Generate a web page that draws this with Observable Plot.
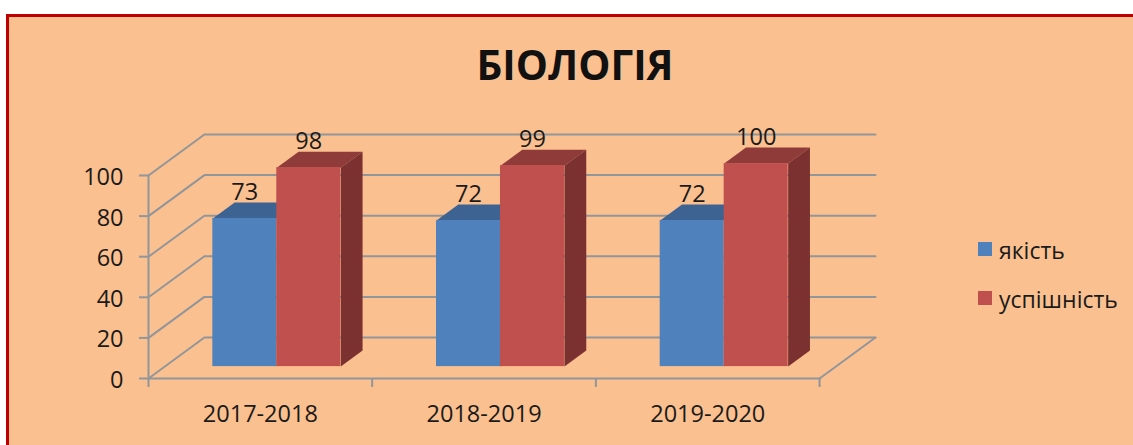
<!DOCTYPE html>
<html lang="uk">
<head>
<meta charset="utf-8">
<script src="https://cdn.jsdelivr.net/npm/d3@7"></script>
<script src="https://cdn.jsdelivr.net/npm/@observablehq/plot@0.6"></script>
<style>
  html, body { margin: 0; padding: 0; background: #fff; width: 1133px; height: 445px; overflow: hidden; }
  #frame { position: absolute; left: 6px; top: 14px; width: 1127px; height: 431px; box-sizing: border-box;
           background: #fbc08f; border-left: 3px solid #c00000; border-top: 3px solid #c00000; }
  #title { position: absolute; left: 0; top: 36px; width: 1150px; text-align: center; margin: 0;
           font: 700 40.5px "Open Sans", sans-serif; color: #111; line-height: 58px; }
  #chart { position: absolute; left: 0; top: 0; }
  #chart svg { background: transparent !important; }
  .key { position: absolute; left: 978px; font: 23px "Open Sans", sans-serif; color: #1a1a1a; line-height: 28px; white-space: nowrap; }
  .key i { position: absolute; left: 0; top: 6px; width: 14px; height: 14px; }
  .key span { margin-left: 21px; }
</style>
</head>
<body>
<div id="frame"></div>
<h1 id="title"></h1>
<div id="chart"></div>
<div id="legend"></div>
<script>
const title = "БІОЛОГІЯ";
const categories = ["2017-2018", "2018-2019", "2019-2020"];
const quality = [73, 72, 72];
const success = [98, 99, 100];
const seriesNames = ["якість", "успішність"];
const yTicks = [0, 20, 40, 60, 80, 100];
const xBounds = [0, 1, 2, 3];

const colors = {
  front: ["#4f81bd", "#c0504d"],
  top: ["#3d6392", "#8f3b39"],
  side: ["#345478", "#7b3130"]
};
const gridColor = "#92959a";
const textColor = "#1a1a1a";
const labelSize = 23.5;
const font = '"Open Sans", sans-serif';

// Oblique projection, expressed in data units: a unit of depth moves a point
// right along x and up along y.
const depthX = 0.25, depthY = 20.2;
const barStart = 0.215, barWidth = 0.286, depth0 = 0.29, depth1 = 0.68;
const px = (c, d) => c + d * depthX;
const py = (v, d) => v + d * depthY;

// Walls and floor: one polyline per tick, from the front plane to the back and along it.
const grid = yTicks.flatMap(v => [
  {id: v, x: px(0, 0), y: py(v, 0)},
  {id: v, x: px(0, 1), y: py(v, 1)},
  {id: v, x: px(3, 1), y: py(v, 1)}
]);
const floorEdges = [
  {id: "front", x: px(0, 0), y: py(0, 0)}, {id: "front", x: px(3, 0), y: py(0, 0)},
  {id: "right", x: px(3, 0), y: py(0, 0)}, {id: "right", x: px(3, 1), y: py(0, 1)},
  {id: "axis", x: px(0, 0), y: py(0, 0)}, {id: "axis", x: px(0, 0), y: py(100, 0)}
];

const bars = [quality, success].map((vals, s) => vals.map((v, i) => {
  const x1 = i + barStart + s * barWidth, x2 = x1 + barWidth;
  return {i, s, v, x1, x2, name: seriesNames[s]};
}));

function faces(list, s) {
  return list.flatMap(b => {
    const t = `t${b.i}`, r = `r${b.i}`;
    const c1 = colors.top[s], c2 = colors.side[s];
    return [
      {id: t, c: c1, x: px(b.x1, depth0), y: py(b.v, depth0)},
      {id: t, c: c1, x: px(b.x2, depth0), y: py(b.v, depth0)},
      {id: t, c: c1, x: px(b.x2, depth1), y: py(b.v, depth1)},
      {id: t, c: c1, x: px(b.x1, depth1), y: py(b.v, depth1)},
      {id: r, c: c2, x: px(b.x2, depth0), y: py(0, depth0)},
      {id: r, c: c2, x: px(b.x2, depth1), y: py(0, depth1)},
      {id: r, c: c2, x: px(b.x2, depth1), y: py(b.v, depth1)},
      {id: r, c: c2, x: px(b.x2, depth0), y: py(b.v, depth0)}
    ];
  });
}

const barMarks = bars.flatMap((list, s) => [
  Plot.line(faces(list, s), {x: "x", y: "y", z: "id", fill: "c", stroke: null, curve: "linear"}),
  Plot.rect(list, {
    x1: b => px(b.x1, depth0), x2: b => px(b.x2, depth0),
    y1: () => py(0, depth0), y2: b => py(b.v, depth0),
    fill: () => colors.front[s], inset: 0
  })
]);

const plot = Plot.plot({
  width: 1133, height: 445,
  marginLeft: 148, marginRight: 258, marginTop: 134, marginBottom: 67,
  style: {background: "transparent", fontFamily: font, fontSize: labelSize + "px", overflow: "visible"},
  x: {type: "linear", domain: [0, 3 + depthX]},
  y: {type: "linear", domain: [0, 100 + depthY]},
  color: {type: "identity"},
  marks: [
    Plot.line(grid, {x: "x", y: "y", z: "id", stroke: gridColor, strokeWidth: 2}),
    Plot.line(floorEdges, {x: "x", y: "y", z: "id", stroke: gridColor, strokeWidth: 2}),
    Plot.axisY({ticks: yTicks, tickSize: 9, tickFormat: () => "", label: null, stroke: gridColor, strokeWidth: 2}),
    Plot.axisY({ticks: yTicks, tickSize: 0, tickPadding: 25, dy: 2, label: null, fill: textColor, fontSize: labelSize}),
    Plot.axisX({ticks: xBounds, tickSize: 9, tickFormat: () => "", label: null, stroke: gridColor, strokeWidth: 2}),
    Plot.axisX({ticks: xBounds.slice(0, 3).map(d => d + 0.5), tickSize: 0, tickPadding: 27, label: null,
                tickFormat: d => categories[d - 0.5], fill: textColor, fontSize: labelSize}),
    ...barMarks,
    ...bars.map(list => Plot.text(list, {
      x: b => px((b.x1 + b.x2) / 2, depth0), y: b => py(b.v, depth0),
      text: b => String(b.v), dy: -26, fill: textColor, fontSize: labelSize
    }))
  ]
});
document.getElementById("chart").append(plot);
document.getElementById("title").textContent = title;

const legend = document.getElementById("legend");
seriesNames.forEach((name, s) => {
  const el = document.createElement("div");
  el.className = "key";
  el.style.top = (236 + s * 48.5) + "px";
  el.innerHTML = `<i style="background:${colors.front[s]}"></i><span>${name}</span>`;
  legend.append(el);
});
</script>
</body>
</html>
